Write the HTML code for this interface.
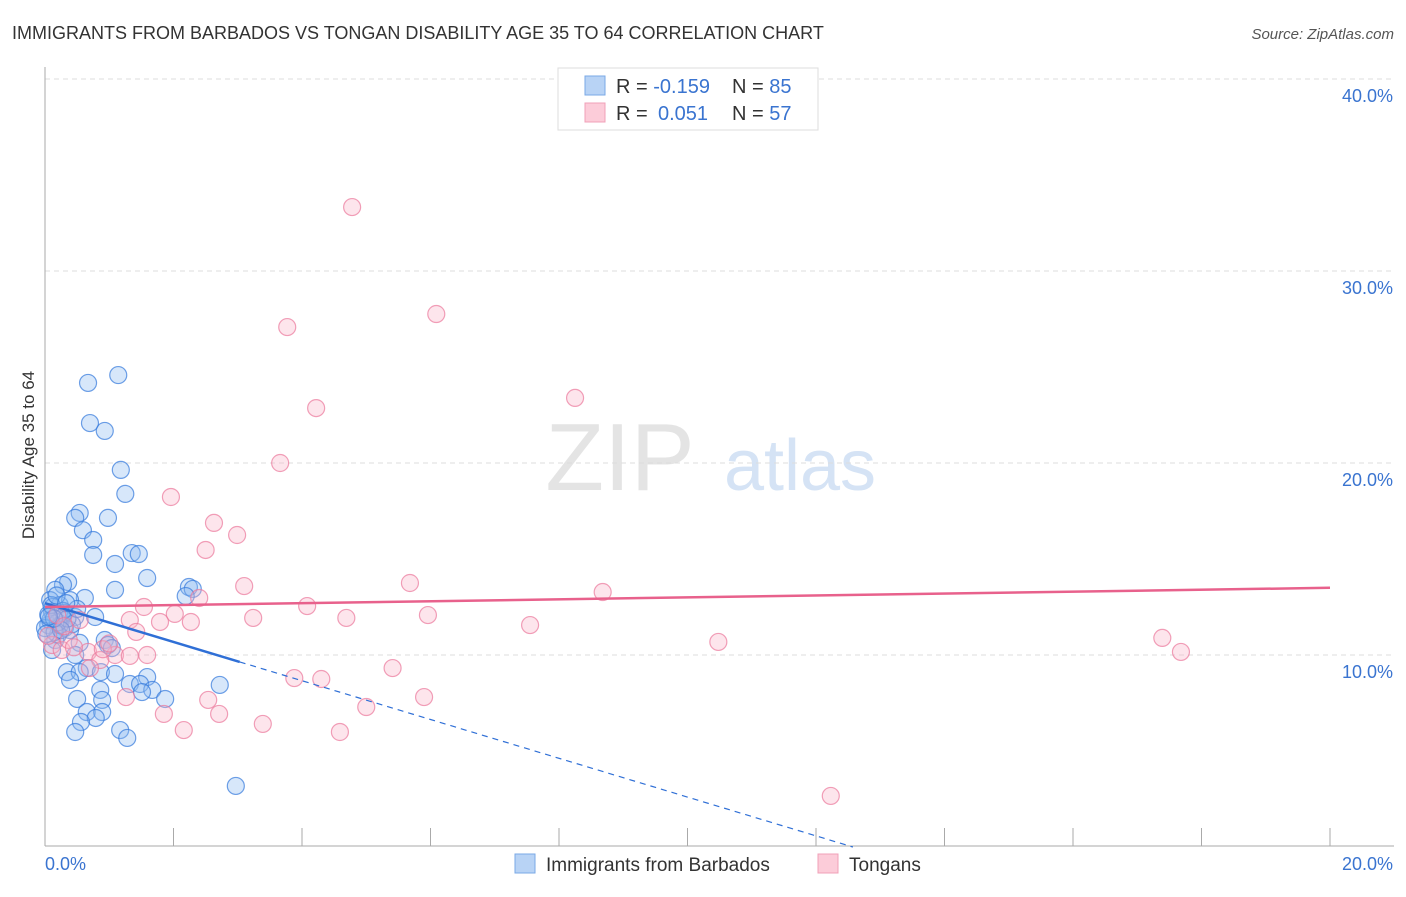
<!DOCTYPE html>
<html><head><meta charset="utf-8"><style>
body{margin:0;background:#fff;font-family:"Liberation Sans",sans-serif;}
svg text{font-family:"Liberation Sans",sans-serif;}
</style></head><body>
<svg id="chart" width="1406" height="892">
<text x="12" y="39" font-size="18" fill="#333">IMMIGRANTS FROM BARBADOS VS TONGAN DISABILITY AGE 35 TO 64 CORRELATION CHART</text>
<text x="1394" y="39" font-size="15" fill="#555" font-style="italic" text-anchor="end">Source: ZipAtlas.com</text>
<text x="620" y="490" font-size="96" fill="#e4e4e4" font-family="Liberation Serif" text-anchor="middle">ZIP</text>
<text x="800" y="490" font-size="72" fill="#d5e3f5" text-anchor="middle">atlas</text>
<text transform="translate(34,455) rotate(-90)" font-size="17" fill="#333" text-anchor="middle">Disability Age 35 to 64</text>
<g id="grid"></g><g id="pts"></g><g id="lines"></g>
<g>
<rect x="558" y="68" width="260" height="62" fill="#fff" stroke="#ddd"/>
<rect x="585" y="76" width="20" height="19" fill="#b8d3f5" stroke="#7aa8e6"/>
<rect x="585" y="103" width="20" height="19" fill="#fcccd9" stroke="#f0a0b8"/>
<text x="616" y="93" font-size="20" fill="#333">R = <tspan fill="#3a74d0">-0.159</tspan></text>
<text x="732" y="93" font-size="20" fill="#333">N = <tspan fill="#3a74d0">85</tspan></text>
<text x="616" y="120" font-size="20" fill="#333">R = <tspan fill="#3a74d0" x="658">0.051</tspan></text>
<text x="732" y="120" font-size="20" fill="#333">N = <tspan fill="#3a74d0">57</tspan></text>
</g>
<g>
<rect x="515" y="854" width="20" height="19" fill="#b8d3f5" stroke="#7aa8e6"/>
<text x="546" y="871" font-size="19" fill="#333">Immigrants from Barbados</text>
<rect x="818" y="854" width="20" height="19" fill="#fcccd9" stroke="#f0a0b8"/>
<text x="849" y="871" font-size="19" fill="#333">Tongans</text>
</g>
</svg>
<script>
const yTicks=[10,20,30,40];
const xTickLabels=["0.0%","20.0%"];
const blueX=[1.14,0.67,0.70,0.93,1.18,1.25,0.54,0.47,0.98,0.59,0.75,0.75,1.35,1.46,1.09,1.59,0.36,0.28,0.16,1.09,2.24,2.30,2.19,0.62,0.08,0.23,0.39,0.11,0.26,0.47,0.78,0.05,0.31,0.39,0.2,0.16,0.54,0.93,0.98,1.04,0.11,0.47,0.65,0.34,0.54,0.87,1.09,1.59,0.39,1.32,1.48,1.67,1.51,0.86,2.72,1.87,0.5,0.89,0.65,0.89,0.79,0.56,1.17,0.47,1.28,2.97,0.08,0.23,0.0,0.12,0.3,0.2,0.05,0.15,0.42,0.28,0.1,0.35,0.18,0.02,0.25,0.5,0.14,0.06,0.33];
const blueY=[24.58,24.17,22.08,21.67,19.64,18.39,17.4,17.14,17.14,16.5,15.99,15.21,15.31,15.26,14.74,14.01,13.8,13.65,13.39,13.39,13.54,13.44,13.07,12.97,12.86,12.6,12.86,12.24,11.93,11.98,11.98,11.56,11.41,11.3,11.04,10.78,10.63,10.78,10.52,10.36,10.26,10.0,9.32,9.11,9.11,9.11,9.01,8.85,8.7,8.49,8.49,8.18,8.07,8.18,8.44,7.71,7.71,7.66,7.03,7.03,6.72,6.51,6.09,5.99,5.68,3.18,11.8,11.56,11.4,12.5,12.2,11.7,12.1,11.2,11.6,12.3,12.6,11.9,13.1,11.1,11.3,12.4,11.9,12.0,12.7];
const pinkX=[4.78,6.09,3.77,4.22,8.25,3.66,1.96,2.63,2.99,2.5,3.1,5.68,8.68,2.4,4.08,1.54,2.02,3.24,4.69,5.96,1.79,2.27,1.32,7.55,17.39,10.48,17.68,1.42,0.11,0.26,0.67,1.09,1.32,1.59,0.86,0.7,0.37,0.54,5.41,3.88,4.3,2.54,1.26,5.9,5.0,1.85,2.71,3.39,2.16,4.59,12.23,0.19,0.05,0.45,0.9,0.3,1.0];
const pinkY=[33.33,27.76,27.08,22.86,23.39,20.0,18.23,16.88,16.25,15.47,13.59,13.75,13.28,12.97,12.55,12.5,12.14,11.93,11.93,12.08,11.72,11.72,11.82,11.56,10.89,10.68,10.16,11.2,10.52,10.26,10.16,10.0,9.95,10.0,9.74,9.32,10.78,11.82,9.32,8.8,8.75,7.66,7.81,7.81,7.29,6.93,6.93,6.41,6.09,5.99,2.66,12.08,11.0,10.4,10.3,11.5,10.6];
const blueTrend=[12.7,-1.01];
const pinkTrend=[12.5,0.05];
const NS="http://www.w3.org/2000/svg";
const X0=45,X1=1330,Y0=847,PPY=19.2;
const sx=v=>X0+(v/20)*(X1-X0), sy=v=>Y0-v*PPY;
function mk(t,a,p){const e=document.createElementNS(NS,t);for(const k in a)e.setAttribute(k,a[k]);p.appendChild(e);return e;}
const grid=document.getElementById('grid');
yTicks.forEach(t=>{
 const l=mk('line',{x1:X0,x2:1394,y1:sy(t),y2:sy(t),stroke:'#ddd','stroke-dasharray':'5,4'},grid);
 
 
 const tx=mk('text',{x:1393,y:sy(t)+23,'font-size':18,fill:'#3a74d0','text-anchor':'end'},grid);
 tx.textContent=t.toFixed(1)+'%';
 
 
});
const ax=mk('line',{x1:X0,x2:X0,y1:67,y2:846,stroke:'#aaa'},grid);


const bx=mk('line',{x1:X0,x2:1394,y1:846,y2:846,stroke:'#aaa'},grid);


for(let i=1;i<=10;i++){
 const t=mk('line',{x1:sx(i*2),x2:sx(i*2),y1:828,y2:846,stroke:'#aaa'},grid);
 
 
}
[[0,'start',xTickLabels[0]],[20,'end',xTickLabels[1]]].forEach(([v,a,s])=>{
 const tx=mk('text',{x:v==0?45:1393,y:870,'font-size':18,fill:'#3a74d0','text-anchor':a},grid);
 tx.textContent=s;
 
 
});
const pts=document.getElementById('pts');
blueX.forEach((x,i)=>{
 const c=mk('circle',{cx:sx(x),cy:sy(blueY[i]),r:8.5,fill:'rgba(140,185,240,0.35)',stroke:'rgba(50,120,220,0.7)','stroke-width':1.2},pts);
 
 
});
pinkX.forEach((x,i)=>{
 const c=mk('circle',{cx:sx(x),cy:sy(pinkY[i]),r:8.5,fill:'rgba(250,180,200,0.35)',stroke:'rgba(235,120,155,0.7)','stroke-width':1.2},pts);
 
 
});
const lines=document.getElementById('lines');
const bf=x=>blueTrend[0]+blueTrend[1]*x, pf=x=>pinkTrend[0]+pinkTrend[1]*x;
const b1=mk('line',{x1:sx(0),y1:sy(bf(0)),x2:sx(3.03),y2:sy(bf(3.03)),stroke:'#2f6fd6','stroke-width':2.5},lines);


const xe=-blueTrend[0]/blueTrend[1];
const b2=mk('line',{x1:sx(3.03),y1:sy(bf(3.03)),x2:sx(xe),y2:sy(0),stroke:'#2f6fd6','stroke-width':1.2,'stroke-dasharray':'6,5'},lines);


const p1=mk('line',{x1:sx(0),y1:sy(pf(0)),x2:sx(20),y2:sy(pf(20)),stroke:'#e8618c','stroke-width':2.5},lines);


</script>
</body></html>
